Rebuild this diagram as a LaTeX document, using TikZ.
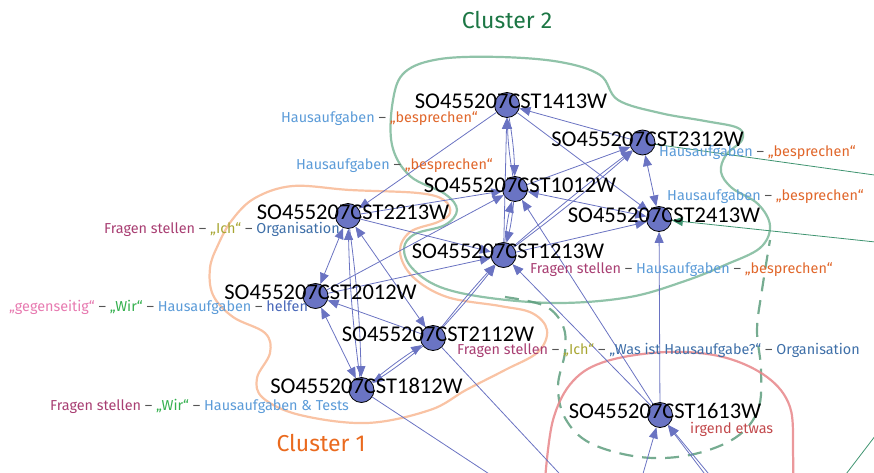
\documentclass[tikz,border=0pt]{standalone}
\usepackage{fontspec}
\setmainfont{Fira Sans}
\newfontfamily\vtxfont{Carlito}
\usetikzlibrary{arrows.meta}
\definecolor{edgec}{HTML}{6A73C2}
\definecolor{vfill}{HTML}{6A74C4}
\definecolor{gedgec}{HTML}{3F9470}
\definecolor{cgreen}{HTML}{7DB89A}
\definecolor{cgreendk}{HTML}{5E9E7E}
\definecolor{corange}{HTML}{F8B894}
\definecolor{cred}{HTML}{E8868A}
\definecolor{cHA}{HTML}{5B9BD8}
\definecolor{cBS}{HTML}{E0662A}
\definecolor{cFS}{HTML}{A83E72}
\definecolor{cIch}{HTML}{A8A632}
\definecolor{cOrg}{HTML}{3E6FA8}
\definecolor{cGeg}{HTML}{E77AB0}
\definecolor{cWir}{HTML}{34B04E}
\definecolor{cHelf}{HTML}{4766B8}
\definecolor{cDash}{HTML}{555555}
\definecolor{cIrg}{HTML}{C2494C}
\definecolor{cCl2}{HTML}{1C7644}
\definecolor{cCl1}{HTML}{EA6A1E}
\newcommand{\lblHA}{\textcolor{cHA}{Hausaufgaben}}
\newcommand{\lblDS}{\ \textcolor{cDash}{–}\ }
\newcommand{\lblBS}{\textcolor{cBS}{„besprechen“}}
\newcommand{\lblFS}{\textcolor{cFS}{Fragen stellen}}
\newcommand{\lblIch}{\textcolor{cIch}{„Ich“}}
\newcommand{\lblOrg}{\textcolor{cOrg}{Organisation}}
\newcommand{\lblWir}{\textcolor{cWir}{„Wir“}}
\begin{document}
\begin{tikzpicture}[x=1pt,y=-1pt,
  vtx/.style={circle, draw=black, line width=0.8pt, fill=vfill, minimum size=25pt, inner sep=0pt},
  vlab/.style={font=\vtxfont\fontsize{22.5}{24}\selectfont, inner sep=0pt, text=black},
  elab/.style={font=\fontsize{14.4}{16}\selectfont, anchor=west, inner sep=0pt},
  clab/.style={font=\fontsize{23}{26}\selectfont, inner sep=0pt},
  tipA/.tip={Triangle[length=11pt,width=9pt]},
  arr/.style={draw=edgec, line width=0.8pt, -tipA},
  biarr/.style={draw=edgec, line width=0.8pt, tipA-tipA},
  plainedge/.style={draw=edgec, line width=0.8pt},
  gline/.style={draw=gedgec, line width=0.8pt},
  garr/.style={draw=gedgec, line width=0.8pt, -{Triangle[length=11pt,width=9pt,fill=gedgec]}},
  hull/.style={line width=2.2pt, opacity=0.85}
]
\useasboundingbox (0,0) rectangle (874,473);
\clip (0,0) rectangle (874,473);

% clusters
\draw[hull, draw=cgreen] plot[smooth cycle, tension=0.6] coordinates {
 (405,72) (440,59) (500,57) (560,62) (600,75) (618,100) (660,113) (705,121) (738,128) (742,140)
 (726,155) (721,172) (732,188) (758,204) (770,226) (760,248) (725,265) (685,281) (630,297)
 (560,303) (490,298) (440,287) (412,268) (404,248) (415,234) (445,225) (457,210) (445,194)
 (410,176) (392,145) (393,100)};
\draw[hull, draw=cgreendk, dash pattern=on 14pt off 9pt] plot[smooth, tension=0.6] coordinates {
 (505,297) (545,306) (563,326) (565,352) (558,386) (565,418) (590,443) (640,457) (690,455)
 (735,438) (758,410) (761,370) (757,330) (762,290) (770,240)};
\draw[hull, draw=corange] plot[smooth cycle, tension=0.6] coordinates {
 (293,186) (350,190) (418,193) (444,200) (450,213) (438,222) (410,232) (400,252) (413,277)
 (447,297) (500,306) (532,313) (547,330) (538,352) (505,370) (466,390) (430,410) (367,423)
 (300,415) (263,398) (257,378) (270,353) (265,333) (233,317) (213,295) (210,268) (218,245)
 (232,220) (255,198)};
\draw[hull, draw=cred] plot[smooth, tension=0.6] coordinates {
 (545,480) (553,420) (573,381) (607,361) (667,352) (723,357) (767,377) (790,407) (793,453) (793,480)};

% vertices
\node[vtx] (n1413) at (507,105) {};
\node[vtx] (n2312) at (642.5,142.5) {};
\node[vtx] (n1012) at (515,189) {};
\node[vtx] (n2413) at (659,219) {};
\node[vtx] (n1213) at (503.5,255) {};
\node[vtx] (n2213) at (348,216) {};
\node[vtx] (n2012) at (315.5,296) {};
\node[vtx] (n2112) at (433,338) {};
\node[vtx] (n1812) at (361.5,390) {};
\node[vtx] (n1613) at (660,415) {};

% off-picture ends
\coordinate (oA) at (620,560);
\coordinate (oB) at (640,560);
\coordinate (oC) at (618,560);
\coordinate (oD1) at (770,560);
\coordinate (oD2) at (780,560);
\coordinate (oE) at (960,187);
\coordinate (oF) at (960,251);
\coordinate (oG) at (830,495);
\coordinate (oH) at (895,410);

% edges
\draw[arr] (n1012) to[bend left=4] (n1413);
\draw[arr] (n1413) to[bend left=4] (n1012);
\draw[arr] (n1213) -- (n1413);
\draw[arr] (n1012) to[bend left=4] (n1213);
\draw[arr] (n1213) to[bend left=4] (n1012);
\draw[arr] (n2312) -- (n1413);
\draw[arr] (n1413) -- (n2413);
\draw[arr] (n1413) -- (n2213);
\draw[arr] (n2213) -- (n1012);
\draw[arr] (n2012) -- (n1012);
\draw[arr] (n1012) -- (n2312);
\draw[arr] (n1213) to[bend left=2] (n2312);
\draw[arr] (n1213) to[bend right=2] (n2312);
\draw[biarr] (n2312) -- (n2413);
\draw[biarr] (n1012) -- (n2413);
\draw[arr] (n1213) -- (n2413);
\draw[arr] (n1613) -- (n2413);
\draw[arr] (n1613) -- (n1012);
\draw[arr] (n1613) -- (n1213);
\draw[arr] (n2213) -- (n1213);
\draw[arr] (n2012) -- (n1213);
\draw[arr] (n2112) to[bend left=2] (n1213);
\draw[arr] (n2112) to[bend right=2] (n1213);
\draw[biarr] (n2213) -- (n2012);
\draw[arr] (n1812) to[bend left=3] (n2213);
\draw[arr] (n2213) to[bend left=3] (n1812);
\draw[biarr] (n2213) -- (n2112);
\draw[biarr] (n2012) -- (n1812);
\draw[arr] (n2112) -- (n2012);
\draw[arr] (n2112) to[bend left=3] (n1812);
\draw[arr] (n1812) to[bend left=3] (n2112);
\draw[plainedge] (n1812) -- (oA);
\draw[plainedge] (n2112) -- (oB);
\draw[arr] (oC) -- (n1613);
\draw[arr] (oD1) -- (n1613);
\draw[arr] (oD2) -- (n1613);
\draw[gline] (n2312) -- (oE);
\draw[garr] (oF) -- (n2413);
\draw[gline] (oG) -- (oH);

% vertex labels
\node[vlab] (l1413) at (511,101) {SO455207CST1413W};
\node[vlab] (l2312) at (647.5,139) {SO455207CST2312W};
\node[vlab] (l1012) at (520,185) {SO455207CST1012W};
\node[vlab] (l2413) at (664,215) {SO455207CST2413W};
\node[vlab] (l1213) at (508,251) {SO455207CST1213W};
\node[vlab] (l2213) at (353,212) {SO455207CST2213W};
\node[vlab] (l2012) at (320.5,292) {SO455207CST2012W};
\node[vlab] (l2112) at (438,334) {SO455207CST2112W};
\node[vlab] (l1812) at (366.5,386) {SO455207CST1812W};
\node[vlab] (l1613) at (665,411) {SO455207CST1613W};

% attribute labels
\node[elab] (a1) at (281,119) {\lblHA\lblDS\lblBS};
\node[elab] (a2) at (296,166) {\lblHA\lblDS\lblBS};
\node[elab] (a3) at (104,229) {\lblFS\lblDS\lblIch\lblDS\lblOrg};
\node[elab] (a4) at (9,307) {\textcolor{cGeg}{„gegenseitig“}\lblDS\lblWir\lblDS\lblHA\lblDS\textcolor{cHelf}{helfen}};
\node[elab] (a5) at (50,406) {\lblFS\lblDS\lblWir\lblDS\textcolor{cHA}{Hausaufgaben \& Tests}};
\node[elab] (a6) at (659,153) {\lblHA\lblDS\lblBS};
\node[elab] (a7) at (667,197) {\lblHA\lblDS\lblBS};
\node[elab] (a8) at (530,270) {\lblFS\lblDS\lblHA\lblDS\lblBS};
\node[elab] (a9) at (457,350) {\lblFS\lblDS\lblIch\lblDS\textcolor{cOrg}{„Was ist Hausaufgabe?“}\lblDS\lblOrg};
\node[elab] (a10) at (690,429) {\textcolor{cIrg}{irgend etwas}};

\node[clab, text=cCl2] (c2) at (507,20) {Cluster 2};
\node[clab, text=cCl1] (c1) at (321,443) {Cluster 1};
\end{tikzpicture}
\end{document}
